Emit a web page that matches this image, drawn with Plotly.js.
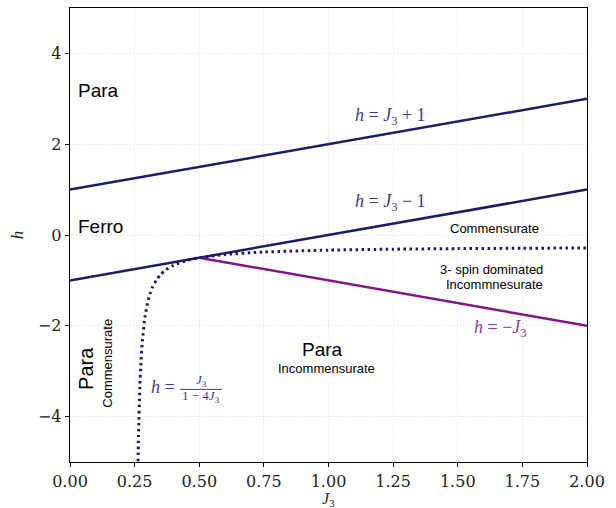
<!DOCTYPE html>
<html>
<head>
<meta charset="utf-8">
<script src="https://cdn.plot.ly/plotly-3.0.1.min.js"></script>
<style>html,body{margin:0;padding:0;background:#fff;}#chart{width:616px;height:508px;}</style>
</head>
<body>
<div id="chart"></div>
<script>
// Boundary lines (endpoints)
const upperJ = [0, 2];
const upperH = [1, 3];
const lowerJ = [0, 2];
const lowerH = [-1, 1];
const negJ = [0.5, 2];
const negH = [-0.5, -2];
// Dotted boundary h = J3/(1-4J3)
const dotJ = [0.2625, 0.265, 0.27, 0.275, 0.28, 0.29, 0.30, 0.31, 0.32, 0.335, 0.35, 0.37, 0.40, 0.45, 0.50, 0.60, 0.75, 1.00, 1.25, 1.50, 1.75, 2.00];
const dotH = [-5.25, -4.42, -3.38, -2.75, -2.33, -1.81, -1.50, -1.29, -1.14, -0.99, -0.875, -0.77, -0.667, -0.5625, -0.50, -0.429, -0.375, -0.333, -0.3125, -0.30, -0.292, -0.286];
const xTicks = [0, 0.25, 0.5, 0.75, 1.0, 1.25, 1.5, 1.75, 2.0];
const yTicks = [-4, -2, 0, 2, 4];

const navy = '#1c1c66';
const navyText = '#3e3e88';
const purple = '#821686';
const purpleText = '#8e3a9c';

const traces = [
  {x: upperJ, y: upperH, mode: 'lines', line: {color: navy, width: 2.5}},
  {x: lowerJ, y: lowerH, mode: 'lines', line: {color: navy, width: 2.5}},
  {x: negJ, y: negH, mode: 'lines', line: {color: purple, width: 2.5}},
  {x: dotJ, y: dotH, mode: 'lines', line: {color: navy, width: 3, dash: '2.5px,3.5px', shape: 'spline', smoothing: 0.6}}
];

const sans = 'Liberation Sans, Arial, sans-serif';
const serif = 'Liberation Serif, DejaVu Serif, serif';
function ann(x, y, text, size, opts) {
  return Object.assign({x: x, y: y, xref: 'x', yref: 'y', text: text, showarrow: false,
    font: {family: sans, size: size, color: '#000'}}, opts || {});
}
const annotations = [
  ann(0.023, 3.18, 'Para', 19, {xanchor: 'left'}),
  ann(0.023, 0.19, 'Ferro', 19, {xanchor: 'left'}),
  ann(1.24, 2.6, '<i>h</i> = <i>J</i><sub>3</sub> + 1', 18, {font: {family: serif, size: 18, color: navyText}}),
  ann(1.24, 0.72, '<i>h</i> = <i>J</i><sub>3</sub> − 1', 18, {font: {family: serif, size: 18, color: navyText}}),
  ann(1.644, 0.15, 'Commensurate', 13),
  ann(1.63, -0.75, '3- spin dominated', 13),
  ann(1.643, -1.1, 'Incommnesurate', 13),
  ann(1.667, -2.07, '<i>h</i> = −<i>J</i><sub>3</sub>', 18, {font: {family: serif, size: 18, color: purpleText}}),
  ann(0.975, -2.52, 'Para', 19),
  ann(0.992, -2.94, 'Incommensurate', 13),
  ann(0.062, -2.95, 'Para', 20, {textangle: -90}),
  ann(0.142, -2.82, 'Commensurate', 13, {textangle: -90}),
  ann(0.3056, -3.35, '<i>h</i> =', 18, {xanchor: 'left', font: {family: serif, size: 18, color: navyText}}),
  ann(0.507, -3.21, '<i>J</i><sub>3</sub>', 13, {font: {family: serif, size: 13, color: navyText}}),
  ann(0.507, -3.56, '1 − 4<i>J</i><sub>3</sub>', 13, {font: {family: serif, size: 13, color: navyText}}),
  {x: 0.5, y: -0.082, xref: 'paper', yref: 'paper', yanchor: 'middle', showarrow: false,
   text: '<i>J</i><sub>3</sub>', font: {family: serif, size: 16, color: '#222'}}
];

const shapes = [
  {type: 'line', xref: 'x', yref: 'y', x0: 0.4255, x1: 0.588, y0: -3.40, y1: -3.40, line: {color: navyText, width: 1}}
];

const axisCommon = {
  showline: true, mirror: true, linecolor: '#000', linewidth: 1.3,
  ticks: 'outside', ticklen: 4, tickcolor: '#000', tickwidth: 1,
  showgrid: true, gridcolor: '#e2e2e2', griddash: '1px,2px', gridwidth: 1,
  zeroline: false,
  tickfont: {family: 'DejaVu Serif, serif', size: 16, color: '#222'}
};

const layout = {
  width: 616, height: 508,
  margin: {l: 70, r: 29, t: 8, b: 46},
  paper_bgcolor: '#fff', plot_bgcolor: '#fff',
  showlegend: false,
  xaxis: Object.assign({}, axisCommon, {
    range: [0, 2], tickvals: xTicks, tickformat: '.2f'
  }),
  yaxis: Object.assign({}, axisCommon, {
    range: [-5, 5], tickvals: yTicks,
    title: {text: '<i>h</i>', font: {family: serif, size: 17, color: '#222'}, standoff: 10}
  }),
  annotations: annotations,
  shapes: shapes
};

Plotly.newPlot('chart', traces, layout, {displayModeBar: false, staticPlot: true});
</script>
</body>
</html>
